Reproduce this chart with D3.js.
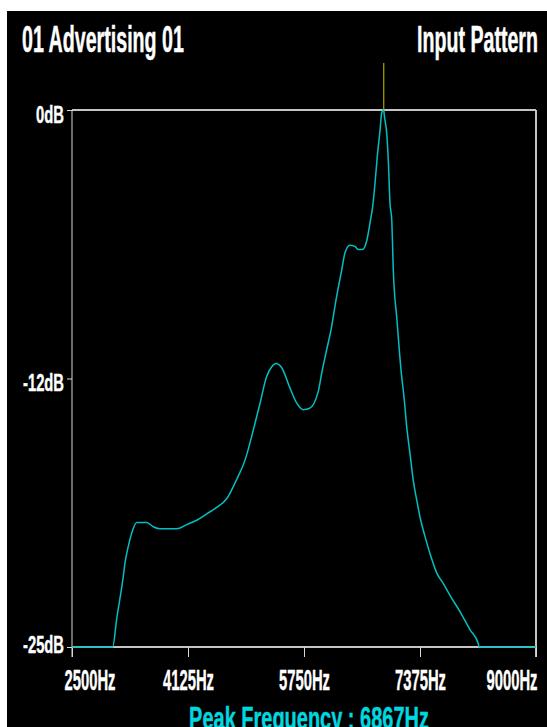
<!DOCTYPE html>
<html>
<head>
<meta charset="utf-8">
<script src="https://cdn.jsdelivr.net/npm/d3@7"></script>
<style>
  html, body { margin: 0; padding: 0; background: #ffffff; }
  svg { display: block; }
  text { font-family: "Liberation Sans", Arial, sans-serif; font-weight: bold; }
</style>
</head>
<body>
<svg id="chart" width="547" height="727"></svg>
<script>
// ---- data ----
const titleLeft = "01 Advertising 01";
const titleRight = "Input Pattern";
const peakFreq = 6867;
const peakLabel = "Peak Frequency : " + peakFreq + "Hz";

const freqs = [2500, 3070, 3126, 3219, 3242, 3289, 3336, 3406, 3453, 3546, 3639, 3733, 3873, 3967,
  4107, 4247, 4387, 4527, 4667, 4807, 4924, 5040, 5134, 5228, 5298, 5358, 5438, 5554, 5648, 5740,
  5824, 5950, 5998, 6068, 6128, 6198, 6278, 6324, 6394, 6464, 6511, 6567, 6628, 6675, 6712, 6745,
  6777, 6815, 6838, 6867, 6875, 6909, 6931, 6955, 6979, 7001, 7053, 7109, 7155, 7189, 7235, 7281,
  7329, 7385, 7445, 7515, 7609, 7702, 7795, 7935, 8076, 8192, 8202, 9000];
const levels = [-25, -25, -23.7, -21.7, -21.1, -20.3, -19.7, -19.2, -19.2, -19.2, -19.4, -19.5, -19.5, -19.5,
  -19.3, -19.1, -18.8, -18.5, -18.1, -17.2, -16.3, -14.9, -13.65, -12.4, -11.95, -11.8, -12.0, -12.95, -13.65, -13.95,
  -13.9, -13.1, -12.25, -11.15, -10.25, -8.85, -7.45, -6.65, -6.3, -6.35, -6.5, -6.5, -6.1, -5.25, -4.5, -3.4,
  -2.15, -0.95, -0.15, 0, -0.25, -1.1, -2.35, -4.35, -5.1, -7.45, -9.8, -12.1, -13.5, -14.75, -16.0, -17.25,
  -18.15, -19.1, -19.85, -20.65, -21.55, -22.05, -22.6, -23.35, -24.2, -24.85, -25, -25];

const xTicks = [2500, 4125, 5750, 7375, 9000];
const yTicks = [0, -12.5, -25];

// ---- layout ----
const W = 547, H = 727;
const plot = { left: 72, right: 536, top: 110, bottom: 647 };

const svg = d3.select("#chart");
svg.append("rect").attr("x", 7).attr("y", 11).attr("width", W - 7).attr("height", H - 11).attr("fill", "#000");

const x = d3.scaleLinear().domain([xTicks[0], xTicks[xTicks.length - 1]]).range([plot.left, plot.right]);
const y = d3.scaleLinear().domain([d3.min(yTicks), d3.max(yTicks)]).range([plot.bottom, plot.top]);

// squeeze a text horizontally to a target width around its anchor x
function fit(sel, widthFn) {
  sel.each(function (d, i) {
    const t = d3.select(this);
    const target = typeof widthFn === "function" ? widthFn.call(this, d, i) : widthFn;
    const natural = this.getComputedTextLength();
    const s = target / natural;
    const ax = +t.attr("x") || 0;
    t.attr("transform", `translate(${ax},0) scale(${s},1) translate(${-ax},0)`);
  });
}

// titles
svg.append("text").attr("x", 22).attr("y", 52).attr("font-size", 37).attr("fill", "#fff")
  .attr("stroke", "#fff").attr("stroke-width", 0.5).text(titleLeft).call(fit, 162);
svg.append("text").attr("x", 538).attr("y", 52).attr("font-size", 37).attr("fill", "#fff")
  .attr("stroke", "#fff").attr("stroke-width", 0.5)
  .attr("text-anchor", "end").text(titleRight).call(fit, 121);

// frame
const frameColor = "#c4c4c4";
svg.append("line").attr("x1", plot.left).attr("x2", plot.right).attr("y1", plot.top).attr("y2", plot.top)
  .attr("stroke", frameColor).attr("stroke-width", 2);
svg.append("line").attr("x1", plot.left).attr("x2", plot.right).attr("y1", plot.bottom).attr("y2", plot.bottom)
  .attr("stroke", frameColor).attr("stroke-width", 2);
svg.append("line").attr("x1", plot.right).attr("x2", plot.right).attr("y1", plot.top).attr("y2", plot.bottom + 10)
  .attr("stroke", frameColor).attr("stroke-width", 2);
svg.append("line").attr("x1", plot.left).attr("x2", plot.left).attr("y1", plot.top).attr("y2", plot.bottom + 10)
  .attr("stroke", "#d8d8d8").attr("stroke-width", 1);

// y axis
const yAxis = d3.axisLeft(y).tickValues(yTicks).tickSize(5).tickPadding(3)
  .tickFormat(d => Math.trunc(d) + "dB");
const gy = svg.append("g").attr("transform", `translate(${plot.left},0)`).call(yAxis);
gy.select(".domain").remove();
gy.selectAll(".tick line").attr("stroke", "#d8d8d8").attr("stroke-width", 1);
const yLabelWidth = { "0dB": 28, "-12dB": 41, "-25dB": 41 };
gy.selectAll(".tick text")
  .attr("fill", "#fff").attr("stroke", "#fff").attr("stroke-width", 0.4)
  .attr("font-size", 23).attr("dy", null)
  .attr("y", d => d === d3.min(yTicks) ? 5 : 12)
  .call(fit, function () { return yLabelWidth[this.textContent]; });

// x axis
const xAxis = d3.axisBottom(x).tickValues(xTicks).tickSize(10).tickPadding(0)
  .tickFormat(d => d + "Hz");
const gx = svg.append("g").attr("transform", `translate(0,${plot.bottom})`).call(xAxis);
gx.select(".domain").remove();
gx.selectAll(".tick line").attr("stroke", "#d8d8d8").attr("stroke-width", 1);
gx.selectAll(".tick text")
  .attr("fill", "#fff").attr("stroke", "#fff").attr("stroke-width", 0.4)
  .attr("font-size", 30).attr("dy", null).attr("y", 43)
  .attr("text-anchor", (d, i) => i === 0 ? "start" : (i === xTicks.length - 1 ? "end" : "middle"))
  .attr("x", (d, i) => i === 0 ? -8 : (i === xTicks.length - 1 ? 1 : 0))
  .call(fit, 51);

// peak marker
svg.append("line").attr("x1", x(peakFreq)).attr("x2", x(peakFreq)).attr("y1", plot.top - 47).attr("y2", plot.top)
  .attr("stroke", "#a8a800").attr("stroke-width", 1.2);

// curve
const pts = freqs.map((f, i) => [f, levels[i]]);
const line = d3.line().x(d => x(d[0])).y(d => y(d[1])).curve(d3.curveMonotoneX);
svg.append("path").datum(pts).attr("d", line).attr("fill", "none")
  .attr("stroke", "#00c0c4").attr("stroke-width", 1.5).attr("stroke-linejoin", "round");

// peak label
svg.append("text").attr("x", 309).attr("y", 729).attr("font-size", 32).attr("fill", "#00d8e0")
  .attr("stroke", "#00d8e0").attr("stroke-width", 0.4)
  .attr("text-anchor", "middle").text(peakLabel).call(fit, 240);
</script>
</body>
</html>
